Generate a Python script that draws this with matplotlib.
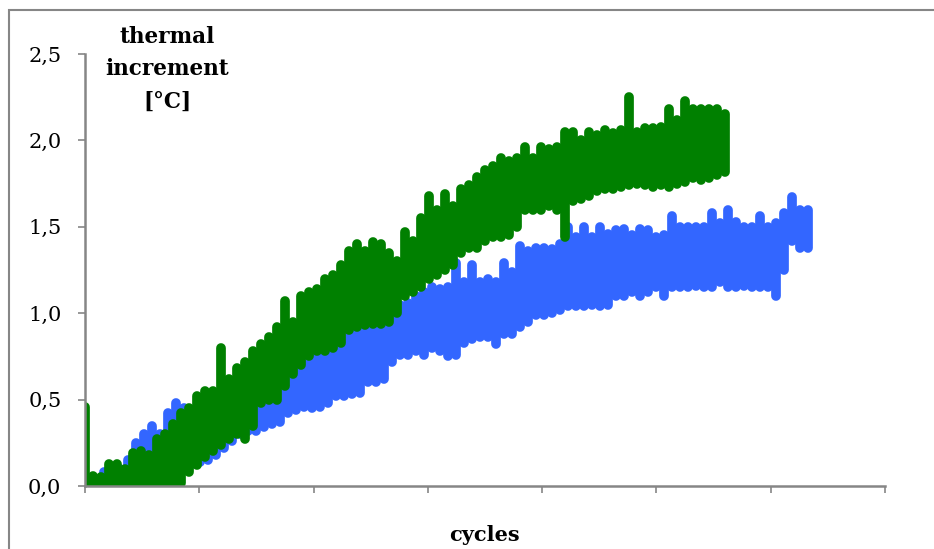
import numpy as np
import matplotlib.pyplot as plt
from matplotlib.patches import Rectangle

# sample grid (x in thousands of cycles, axis has 7 unlabeled divisions)
green_start = 0.0
green_step = 0.07
green_low = [0.02, 0.0, 0.0, 0.0, 0.0, 0.0, 0.0, 0.0, 0.0, 0.0,
             0.0, 0.0, 0.02, 0.08, 0.12, 0.17, 0.2, 0.24, 0.27, 0.3,
             0.27, 0.35, 0.48, 0.5, 0.5, 0.58, 0.65, 0.7, 0.75, 0.78,
             0.78, 0.8, 0.83, 0.9, 0.92, 0.93, 0.94, 0.94, 0.95, 1.0,
             1.1, 1.12, 1.15, 1.2, 1.22, 1.25, 1.28, 1.35, 1.38, 1.38,
             1.42, 1.44, 1.44, 1.45, 1.5, 1.6, 1.6, 1.6, 1.62, 1.6,
             1.44, 1.65, 1.66, 1.68, 1.71, 1.72, 1.72, 1.73, 1.74, 1.75,
             1.74, 1.73, 1.74, 1.73, 1.75, 1.76, 1.78, 1.77, 1.78, 1.8,
             1.82]
green_high = [0.46, 0.06, 0.05, 0.13, 0.13, 0.1, 0.19, 0.2, 0.18, 0.27,
              0.3, 0.36, 0.42, 0.45, 0.52, 0.55, 0.55, 0.8, 0.62, 0.68,
              0.72, 0.78, 0.82, 0.86, 0.92, 1.07, 0.95, 1.1, 1.12, 1.14,
              1.2, 1.22, 1.28, 1.36, 1.4, 1.36, 1.41, 1.4, 1.35, 1.3,
              1.47, 1.42, 1.55, 1.68, 1.6, 1.69, 1.62, 1.72, 1.74, 1.79,
              1.83, 1.85, 1.9, 1.88, 1.9, 1.96, 1.9, 1.96, 1.95, 1.96,
              2.05, 2.05, 2.0, 2.05, 2.03, 2.06, 2.04, 2.06, 2.25, 2.05,
              2.07, 2.07, 2.08, 2.18, 2.12, 2.23, 2.18, 2.18, 2.18, 2.18,
              2.15]

blue_start = 0.1
blue_step = 0.07
blue_low = [0.0, 0.0, 0.0, 0.0, 0.0, 0.0, 0.0, 0.03, 0.05, 0.08,
            0.1, 0.12, 0.13, 0.14, 0.15, 0.18, 0.22, 0.26, 0.3, 0.32,
            0.32, 0.34, 0.36, 0.37, 0.42, 0.44, 0.46, 0.45, 0.46, 0.48,
            0.52, 0.52, 0.53, 0.54, 0.6, 0.6, 0.62, 0.72, 0.76, 0.76,
            0.78, 0.76, 0.8, 0.78, 0.75, 0.76, 0.83, 0.85, 0.86, 0.86,
            0.82, 0.88, 0.88, 0.92, 0.95, 0.99, 0.99, 1.0, 1.02, 1.04,
            1.04, 1.04, 1.05, 1.04, 1.05, 1.1, 1.1, 1.12, 1.1, 1.12,
            1.15, 1.1, 1.15, 1.15, 1.15, 1.16, 1.15, 1.15, 1.18, 1.15,
            1.15, 1.16, 1.15, 1.15, 1.15, 1.1, 1.25, 1.42, 1.38, 1.38]
blue_high = [0.04, 0.08, 0.06, 0.1, 0.15, 0.25, 0.3, 0.35, 0.3, 0.42,
             0.48, 0.45, 0.42, 0.48, 0.5, 0.52, 0.55, 0.56, 0.6, 0.62,
             0.65, 0.7, 0.72, 0.75, 0.82, 0.88, 0.85, 0.88, 0.9, 0.92,
             0.93, 0.95, 0.93, 0.97, 0.98, 1.0, 1.02, 1.03, 1.05, 1.06,
             1.1, 1.12, 1.15, 1.14, 1.15, 1.29, 1.18, 1.28, 1.18, 1.2,
             1.18, 1.29, 1.24, 1.39, 1.36, 1.38, 1.38, 1.37, 1.4, 1.5,
             1.44, 1.5, 1.44, 1.5, 1.46, 1.48, 1.49, 1.45, 1.49, 1.48,
             1.44, 1.45, 1.56, 1.5, 1.5, 1.5, 1.5, 1.58, 1.52, 1.6,
             1.53, 1.5, 1.5, 1.56, 1.5, 1.52, 1.58, 1.67, 1.6, 1.6]

y_ticks = [0.0, 0.5, 1.0, 1.5, 2.0, 2.5]
y_labels = ["0,0", "0,5", "1,0", "1,5", "2,0", "2,5"]
x_ticks = [0, 1, 2, 3, 4, 5, 6, 7]

fig = plt.figure(figsize=(9.34, 5.49), dpi=100)
ax = fig.add_axes([85 / 934, 63 / 549, 800 / 934, 432 / 549])

grey = "#868686"
lw = 7.0
# each reading swings between a low and a high value -> one thick stroke per sample
bx = blue_start + blue_step * np.arange(len(blue_low))
ax.vlines(bx, blue_low, blue_high, color="#3366ff", lw=lw, capstyle="round")
gx = green_start + green_step * np.arange(len(green_low))
ax.vlines(gx, green_low, green_high, color="#008000", lw=lw, capstyle="round")

ax.set_xlim(0, 7)
ax.set_ylim(0, 2.5)
ax.set_xticks(x_ticks)
ax.set_xticklabels([])
ax.set_yticks(y_ticks)
ax.set_yticklabels(y_labels, family="DejaVu Serif", fontsize=15)
ax.tick_params(axis="both", direction="out", length=5, width=1.2, color=grey)
ax.tick_params(axis="y", pad=12)
for s in ["top", "right"]:
    ax.spines[s].set_visible(False)
for s in ["left", "bottom"]:
    ax.spines[s].set_color(grey)
    ax.spines[s].set_linewidth(1.8)

fig.text(167 / 934, 1 - 26 / 549, "thermal\nincrement\n[°C]", ha="center", va="top",
         family="DejaVu Serif", fontweight="bold", fontsize=15.5, linespacing=1.6)
fig.text(484 / 934, 1 - 525 / 549, "cycles", ha="center", va="top",
         family="DejaVu Serif", fontweight="bold", fontsize=15)

fig.patches.append(Rectangle((9 / 934, -0.2), 2, 1.2 - 10 / 549, transform=fig.transFigure,
                             fill=False, edgecolor=grey, lw=1.5))

fig.savefig("out.png", dpi=100)
